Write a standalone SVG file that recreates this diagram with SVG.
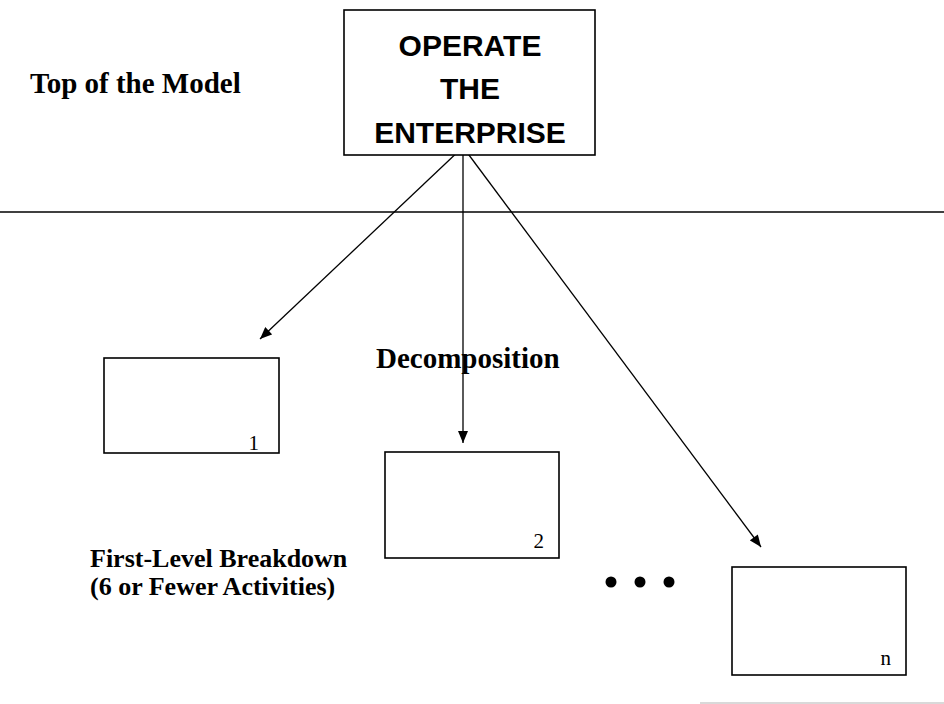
<svg xmlns="http://www.w3.org/2000/svg" width="944" height="704" viewBox="0 0 944 704">
<style>
.box{fill:#fff;stroke:#000;stroke-width:1.6}
.title{font-family:"Liberation Sans",Arial,sans-serif;font-weight:bold;font-size:30px;text-anchor:middle}
.lbl{font-family:"Liberation Serif","Times New Roman",serif;font-weight:bold;font-size:26px}
.num{font-family:"Liberation Serif","Times New Roman",serif;font-size:21px;text-anchor:end}
.conn{stroke:#000;stroke-width:1.3;fill:none;marker-end:url(#ah)}
</style>
<defs>
<marker id="ah" viewBox="0 0 12 10" refX="12" refY="5" markerWidth="13" markerHeight="10" markerUnits="userSpaceOnUse" orient="auto">
<path d="M0,0 L12,5 L0,10 z" fill="#000"/>
</marker>
</defs>
<rect width="944" height="704" fill="#fff"/>
<line x1="0" y1="212" x2="944" y2="212" stroke="#000" stroke-width="1.3"/>
<line x1="700" y1="703" x2="944" y2="703" stroke="#ccc" stroke-width="1.5"/>
<text class="lbl" x="30" y="93" style="font-size:29px">Top of the Model</text>
<text class="lbl" x="376" y="368" style="font-size:29px">Decomposition</text>
<text class="lbl" x="90" y="567">First-Level Breakdown</text>
<text class="lbl" x="90" y="595">(6 or Fewer Activities)</text>
<g id="connectors">
<line class="conn" x1="463" y1="147" x2="260" y2="339"/>
<line class="conn" x1="463" y1="147" x2="463" y2="443"/>
<line class="conn" x1="463" y1="147" x2="761" y2="547"/>
</g>
<g id="node-top">
<rect class="box" x="344" y="10" width="251" height="145"/>
<text class="title" x="470" y="56">OPERATE</text>
<text class="title" x="470" y="99">THE</text>
<text class="title" x="470" y="143">ENTERPRISE</text>
</g>
<g id="node-1">
<rect class="box" x="104" y="358" width="175" height="95"/>
<text class="num" x="259" y="450">1</text>
</g>
<g id="node-2">
<rect class="box" x="385" y="452" width="174" height="106"/>
<text class="num" x="544" y="548">2</text>
</g>
<g id="node-n">
<rect class="box" x="732" y="567" width="174" height="108"/>
<text class="num" x="891" y="665">n</text>
</g>
<g id="dots" fill="#000">
<circle cx="611" cy="582" r="5.5"/>
<circle cx="640" cy="582" r="5.5"/>
<circle cx="669" cy="582" r="5.5"/>
</g>
</svg>
